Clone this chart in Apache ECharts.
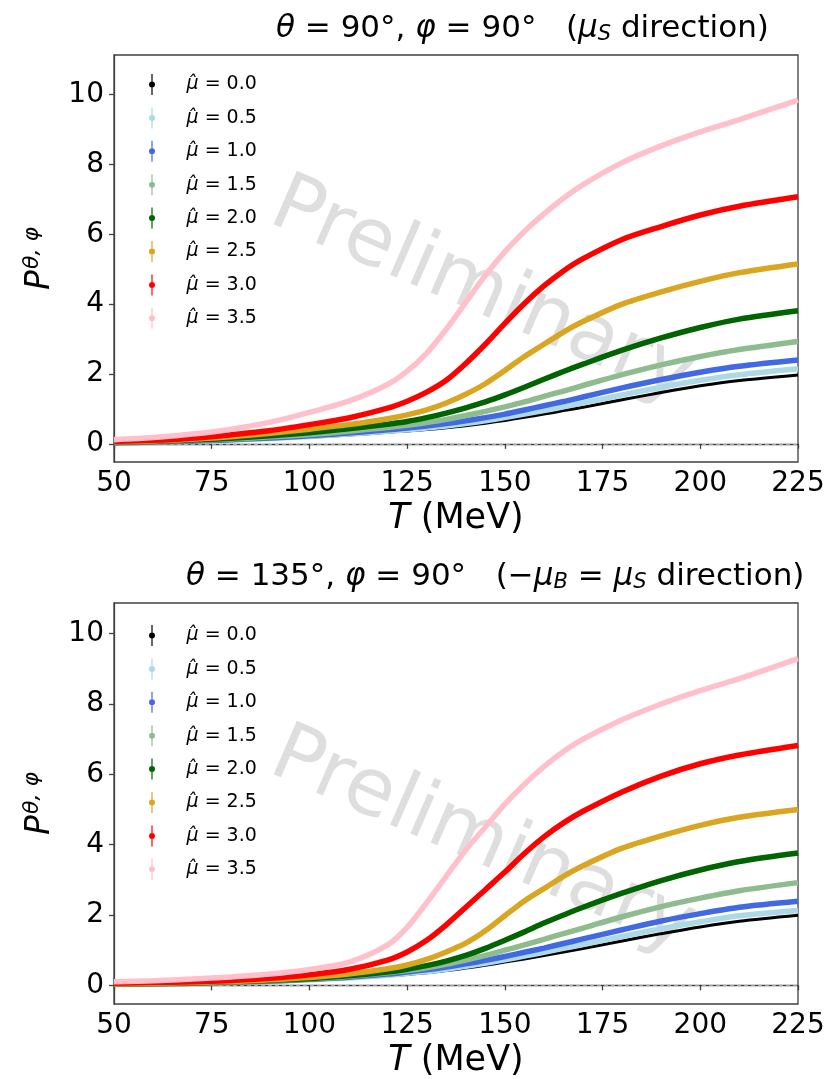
<!DOCTYPE html>
<html>
<head>
<meta charset="utf-8">
<script src="https://cdn.jsdelivr.net/npm/echarts@6/dist/echarts.min.js"></script>
<style>
  html, body { margin: 0; padding: 0; background: #fff; }
  #chart { width: 831px; height: 1079px; }
</style>
</head>
<body>
<div id="chart"></div>
<script>
// Temperature grid (MeV)
const T = [50, 60, 70, 80, 90, 100, 110, 120, 125, 130, 135, 140, 145, 150, 155, 160, 165, 170, 180, 190, 200, 210, 225];

const muLabels = ['0.0', '0.5', '1.0', '1.5', '2.0', '2.5', '3.0', '3.5'];
const muColors = ['#000000', '#add8e6', '#4169e1', '#8fbc8f', '#006400', '#daa520', '#ff0000', '#ffc0cb'];

// theta = 90, phi = 90 (mu_S direction)
const top_mu00 = [0.03, 0.04, 0.07, 0.10, 0.14, 0.19, 0.25, 0.33, 0.37, 0.41, 0.46, 0.52, 0.59, 0.67, 0.76, 0.85, 0.95, 1.05, 1.26, 1.47, 1.66, 1.81, 1.97];
const top_mu05 = [0.03, 0.05, 0.07, 0.11, 0.15, 0.21, 0.28, 0.36, 0.40, 0.45, 0.51, 0.58, 0.66, 0.75, 0.85, 0.95, 1.06, 1.17, 1.40, 1.62, 1.82, 1.98, 2.15];
const top_mu10 = [0.03, 0.05, 0.08, 0.12, 0.17, 0.23, 0.31, 0.40, 0.45, 0.51, 0.58, 0.66, 0.75, 0.85, 0.97, 1.09, 1.21, 1.34, 1.60, 1.84, 2.05, 2.22, 2.40];
const top_mu15 = [0.04, 0.06, 0.10, 0.14, 0.20, 0.27, 0.36, 0.47, 0.53, 0.61, 0.70, 0.81, 0.93, 1.06, 1.20, 1.36, 1.51, 1.67, 1.98, 2.26, 2.50, 2.70, 2.93];
const top_mu20 = [0.04, 0.07, 0.11, 0.16, 0.23, 0.32, 0.43, 0.56, 0.64, 0.75, 0.88, 1.03, 1.20, 1.40, 1.62, 1.85, 2.07, 2.28, 2.68, 3.03, 3.33, 3.57, 3.81];
const top_mu25 = [0.05, 0.08, 0.13, 0.20, 0.30, 0.42, 0.55, 0.72, 0.83, 0.97, 1.17, 1.42, 1.72, 2.10, 2.50, 2.85, 3.20, 3.50, 4.00, 4.35, 4.65, 4.90, 5.15];
const top_mu30 = [0.07, 0.10, 0.16, 0.26, 0.38, 0.55, 0.74, 1.02, 1.22, 1.48, 1.82, 2.30, 2.85, 3.45, 4.02, 4.52, 4.95, 5.30, 5.85, 6.22, 6.55, 6.80, 7.07];
const top_mu35 = [0.12, 0.18, 0.28, 0.42, 0.62, 0.90, 1.22, 1.70, 2.08, 2.60, 3.28, 4.05, 4.82, 5.50, 6.08, 6.58, 7.03, 7.42, 8.05, 8.53, 8.93, 9.28, 9.84];

// theta = 135, phi = 90 (-mu_B = mu_S direction)
const bot_mu00 = [0.03, 0.04, 0.06, 0.08, 0.11, 0.15, 0.20, 0.27, 0.31, 0.36, 0.42, 0.49, 0.57, 0.66, 0.75, 0.85, 0.95, 1.05, 1.26, 1.47, 1.66, 1.82, 1.99];
const bot_mu05 = [0.03, 0.04, 0.06, 0.08, 0.11, 0.16, 0.21, 0.29, 0.34, 0.39, 0.46, 0.54, 0.63, 0.73, 0.83, 0.94, 1.05, 1.16, 1.39, 1.61, 1.81, 1.98, 2.13];
const bot_mu10 = [0.03, 0.04, 0.06, 0.09, 0.12, 0.17, 0.23, 0.32, 0.38, 0.44, 0.52, 0.61, 0.71, 0.82, 0.94, 1.06, 1.19, 1.32, 1.58, 1.83, 2.04, 2.22, 2.39];
const bot_mu15 = [0.03, 0.04, 0.06, 0.09, 0.13, 0.18, 0.26, 0.36, 0.42, 0.50, 0.60, 0.72, 0.85, 1.00, 1.15, 1.31, 1.47, 1.63, 1.95, 2.24, 2.48, 2.69, 2.92];
const bot_mu20 = [0.04, 0.05, 0.07, 0.10, 0.14, 0.19, 0.27, 0.38, 0.46, 0.56, 0.69, 0.85, 1.05, 1.28, 1.52, 1.77, 2.00, 2.22, 2.62, 2.98, 3.28, 3.52, 3.76];
const bot_mu25 = [0.04, 0.06, 0.08, 0.11, 0.16, 0.22, 0.32, 0.47, 0.58, 0.74, 0.95, 1.20, 1.55, 1.98, 2.40, 2.75, 3.10, 3.40, 3.90, 4.25, 4.55, 4.78, 5.00];
const bot_mu30 = [0.06, 0.08, 0.10, 0.14, 0.20, 0.30, 0.45, 0.72, 0.95, 1.28, 1.72, 2.22, 2.72, 3.22, 3.75, 4.22, 4.62, 4.95, 5.50, 5.95, 6.30, 6.55, 6.82];
const bot_mu35 = [0.10, 0.13, 0.18, 0.24, 0.32, 0.45, 0.65, 1.15, 1.65, 2.35, 3.10, 3.85, 4.50, 5.15, 5.72, 6.22, 6.65, 7.00, 7.55, 8.00, 8.38, 8.72, 9.29];

const topSets = [top_mu00, top_mu05, top_mu10, top_mu15, top_mu20, top_mu25, top_mu30, top_mu35];
const botSets = [bot_mu00, bot_mu05, bot_mu10, bot_mu15, bot_mu20, bot_mu25, bot_mu30, bot_mu35];

const yTicks = [0, 2, 4, 6, 8, 10];

const FONT = 'DejaVu Sans';
const AXIS_COLOR = '#404040';

// legend glyph: error bar with a dot
const ERRBAR = 'path://M2.9,0 L4.1,0 L4.1,21 L2.9,21 Z M6.5,10.5 A3,3 0 1,1 0.5,10.5 A3,3 0 1,1 6.5,10.5 Z';

function seriesName(i) { return '\u03bc\u0302 = ' + muLabels[i]; }

function makeX(gridIndex) {
  return {
    type: 'value', gridIndex, min: 50, max: 225, interval: 25,
    name: '{i|T} (MeV)', nameLocation: 'middle', nameGap: 39,
    nameTextStyle: { fontFamily: FONT, fontSize: 35, color: '#000',
      rich: { i: { fontFamily: FONT, fontStyle: 'italic', fontSize: 35, color: '#000' } } },
    axisLine: { show: true, lineStyle: { color: AXIS_COLOR, width: 1.3 } },
    axisTick: { show: true, inside: false, length: 5, lineStyle: { color: AXIS_COLOR, width: 1.3 } },
    axisLabel: { fontFamily: FONT, fontSize: 28, color: '#000', margin: 8, showMinLabel: true, showMaxLabel: true },
    splitLine: { show: false }
  };
}

function makeY(gridIndex, min, max) {
  return {
    type: 'value', gridIndex, min, max,
    name: '{p|P}{s|\u03b8, \u03c6}', nameLocation: 'middle', nameGap: 48, nameRotate: 90,
    nameTextStyle: { fontFamily: FONT, color: '#000',
      rich: {
        p: { fontFamily: FONT, fontStyle: 'italic', fontSize: 33, color: '#000', lineHeight: 38 },
        s: { fontFamily: FONT, fontStyle: 'italic', fontSize: 22, color: '#000', verticalAlign: 'top', lineHeight: 38, padding: [0, 0, 14, 1] }
      } },
    axisLine: { show: true, onZero: false, lineStyle: { color: AXIS_COLOR, width: 1.3 } },
    axisTick: { show: true, inside: false, length: 5, customValues: yTicks, lineStyle: { color: AXIS_COLOR, width: 1.3 } },
    axisLabel: { fontFamily: FONT, fontSize: 28, color: '#000', margin: 10, customValues: yTicks },
    splitLine: { show: false }
  };
}

function makeSeries(sets, gridIndex) {
  return sets.map((vals, i) => ({
    type: 'line', name: seriesName(i), xAxisIndex: gridIndex, yAxisIndex: gridIndex,
    data: T.map((t, k) => [t, vals[k]]),
    smooth: 0.3, showSymbol: false, symbol: 'none', silent: true,
    lineStyle: { color: muColors[i], width: i === 0 ? 3 : 5.5 },
    itemStyle: { color: muColors[i] },
    z: 3 + i,
    markLine: i === 0 ? {
      silent: true, symbol: ['none', 'none'], label: { show: false },
      lineStyle: { color: '#a0a0a0', type: [4, 3], width: 1.1 },
      data: [{ yAxis: 0 }], z: 1
    } : undefined
  }));
}

function makeLegend(top) {
  return {
    orient: 'vertical', left: 144, top, itemWidth: 7, itemHeight: 21, itemGap: 12.4,
    selectedMode: false,
    data: muLabels.map((_, i) => ({ name: seriesName(i), icon: ERRBAR, itemStyle: { color: muColors[i] } })),
    formatter: (name) => '{i|\u03bc\u0302} = ' + name.split('= ')[1],
    textStyle: { fontFamily: FONT, fontSize: 19, color: '#000', padding: [0, 0, 0, 26],
      rich: { i: { fontFamily: FONT, fontStyle: 'italic', fontSize: 19, color: '#000' } } }
  };
}

function watermark(cx, cy) {
  return {
    type: 'text', x: cx, y: cy, rotation: -0.41, z: 0, silent: true,
    style: { text: 'Preliminary', fontFamily: FONT, fontSize: 80, fill: 'rgba(128,128,128,0.26)',
      align: 'center', verticalAlign: 'middle' }
  };
}

const titleRich = {
  i: { fontFamily: FONT, fontStyle: 'italic', fontSize: 31, color: '#000' },
  sub: { fontFamily: FONT, fontStyle: 'italic', fontSize: 21, color: '#000', verticalAlign: 'bottom', padding: [11, 0, 0, 0] }
};

const chart = echarts.init(document.getElementById('chart'), null, { renderer: 'canvas' });
chart.setOption({
  animation: false,
  backgroundColor: '#fff',
  title: [
    { text: '{i|\u03b8} = 90\u00b0, {i|\u03c6} = 90\u00b0   ({i|\u03bc}{sub|S} direction)', left: 271, top: 8,
      textStyle: { fontFamily: FONT, fontSize: 31, fontWeight: 'normal', color: '#000', rich: titleRich } },
    { text: '{i|\u03b8} = 135\u00b0, {i|\u03c6} = 90\u00b0   (\u2212{i|\u03bc}{sub|B} = {i|\u03bc}{sub|S} direction)', left: 181, top: 556,
      textStyle: { fontFamily: FONT, fontSize: 31, fontWeight: 'normal', color: '#000', rich: titleRich } }
  ],
  grid: [
    { left: 114, top: 55, width: 684, height: 407, show: true, borderColor: AXIS_COLOR, borderWidth: 1.3, backgroundColor: 'transparent' },
    { left: 114, top: 603, width: 684, height: 407, show: true, borderColor: AXIS_COLOR, borderWidth: 1.3, backgroundColor: 'transparent' }
  ],
  xAxis: [makeX(0), makeX(1)],
  yAxis: [makeY(0, -0.52, 11.13), makeY(1, -0.53, 10.87)],
  legend: [makeLegend(69), makeLegend(620)],
  graphic: [watermark(482, 292), watermark(482, 842)],
  series: makeSeries(topSets, 0).concat(makeSeries(botSets, 1))
});
</script>
</body>
</html>
